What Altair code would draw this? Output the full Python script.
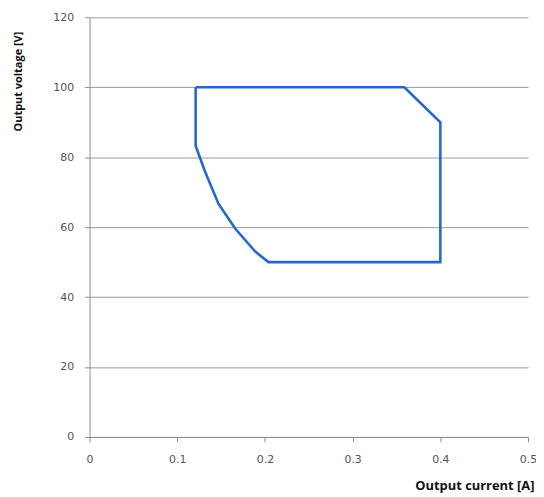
import altair as alt
import pandas as pd

# Boundary of the operating area (closed polygon)
current_a = [0.121, 0.359, 0.400, 0.400, 0.204, 0.189, 0.166, 0.147, 0.132, 0.121, 0.121]
voltage_v = [100.0, 100.0, 90.0, 50.0, 50.0, 53.0, 59.6, 66.7, 75.7, 83.2, 100.0]
x_ticks = [0, 0.1, 0.2, 0.3, 0.4, 0.5]
y_ticks = [0, 20, 40, 60, 80, 100, 120]

df = pd.DataFrame({
    "current": current_a,
    "voltage": voltage_v,
    "order": list(range(len(current_a))),
})

FONT = "DejaVu Sans"
TFONT = "Open Sans"

chart = alt.Chart(df).mark_line(color="#2468cc", strokeWidth=2.6).encode(
    x=alt.X(
        "current:Q",
        scale=alt.Scale(domain=[0, 0.5], nice=False, zero=True),
        axis=alt.Axis(
            values=x_ticks, format="~g", grid=False, labelFlush=False,
            title="Output current [A]",
            titleAlign="right", titleAnchor="end", titleX=447, titleY=53,
            titleBaseline="alphabetic", titleFontSize=13, titleFontWeight="bold",
            titleFont=TFONT, titleColor="#111111",
            labelFont=FONT, labelFontSize=11, labelColor="#555555",
            labelPadding=12,
            domainColor="#8c8c8c", tickColor="#8c8c8c", tickSize=5,
        ),
    ),
    y=alt.Y(
        "voltage:Q",
        scale=alt.Scale(domain=[0, 120], nice=False),
        axis=alt.Axis(
            values=y_ticks, format="d", grid=True, gridColor="#9a9a9a",
            gridWidth=1, labelFlush=False,
            title="Output voltage [V]",
            titleAngle=-90, titleAlign="right", titleBaseline="middle",
            titleX=-71, titleY=14, titleFontSize=11, titleFontWeight="bold",
            titleFont=TFONT, titleColor="#111111",
            labelFont=FONT, labelFontSize=11, labelColor="#555555",
            labelPadding=11,
            domainColor="#8c8c8c", tickColor="#8c8c8c", tickSize=5,
        ),
    ),
    order="order:Q",
).properties(
    width=441,
    height=422,
    autosize=alt.AutoSizeParams(type="none"),
    padding={"left": 82, "top": 8, "right": 8, "bottom": 58},
).configure_view(stroke=None)

chart.save("out.html", embed_options={"renderer": "svg", "actions": False})
